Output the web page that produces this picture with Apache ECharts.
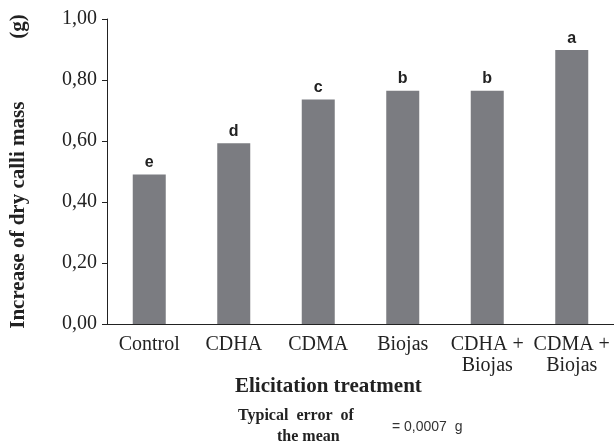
<!DOCTYPE html>
<html><head><meta charset="utf-8">
<script src="https://cdn.jsdelivr.net/npm/echarts@6/dist/echarts.min.js"></script>
<style>html,body{margin:0;padding:0;background:#fff}#c{width:614px;height:445px}</style>
</head><body><div id="c"></div>
<script>
var categories = ['Control', 'CDHA', 'CDMA', 'Biojas', 'CDHA +\nBiojas', 'CDMA +\nBiojas'];
var values = [0.49, 0.593, 0.736, 0.765, 0.765, 0.898];
var letters = ['e', 'd', 'c', 'b', 'b', 'a'];
var yTicks = [0, 0.2, 0.4, 0.6, 0.8, 1.0];

var chart = echarts.init(document.getElementById('c'));
var serif = '"Liberation Serif", "Times New Roman", serif';
chart.setOption({
  animation: false,
  grid: { left: 104, right: -3, top: 19, bottom: 121 },
  xAxis: {
    type: 'category',
    data: categories,
    axisLine: { lineStyle: { color: '#222', width: 1 } },
    axisTick: { alignWithLabel: true, length: 5, lineStyle: { color: '#222' } },
    axisLabel: { fontFamily: serif, fontSize: 20, color: '#222', margin: 10, lineHeight: 21, interval: 0 }
  },
  yAxis: {
    type: 'value', min: 0, max: 1, interval: 0.2,
    name: 'Increase of dry calli mass            (g)',
    nameLocation: 'middle', nameGap: 78, nameRotate: 90,
    nameTextStyle: { fontFamily: serif, fontSize: 21, fontWeight: 'bold', color: '#222' },
    axisLine: { show: true, lineStyle: { color: '#222', width: 1 } },
    axisTick: { show: true, length: 5, lineStyle: { color: '#222' } },
    splitLine: { show: false },
    axisLabel: {
      fontFamily: serif, fontSize: 20, color: '#222', margin: 10,
      formatter: function (v) { return v.toFixed(2).replace('.', ','); }
    }
  },
  series: [{
    type: 'bar',
    data: values,
    barWidth: 33,
    itemStyle: { color: '#7b7c81' },
    label: {
      show: true, position: 'top', distance: 4,
      fontFamily: 'Arial, "Liberation Sans", sans-serif', fontWeight: 'bold', fontSize: 16, color: '#222',
      formatter: function (p) { return letters[p.dataIndex]; }
    }
  }],
  graphic: [
    { type: 'text', left: 235, top: 376, style: { text: 'Elicitation treatment', font: 'bold 21px ' + serif, fill: '#222' } },
    { type: 'text', left: 238, top: 408, style: { text: 'Typical  error  of', font: 'bold 16px ' + serif, fill: '#222' } },
    { type: 'text', left: 277, top: 429, style: { text: 'the mean', font: 'bold 16px ' + serif, fill: '#222' } },
    { type: 'text', left: 392, top: 420, style: { text: '= 0,0007  g', font: '14px "Liberation Sans", Arial, sans-serif', fill: '#333' } }
  ]
});
</script></body></html>
